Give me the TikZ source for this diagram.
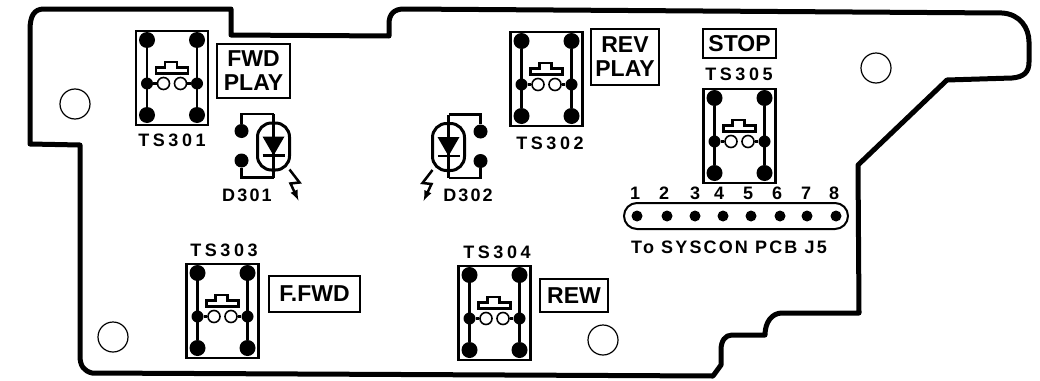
\documentclass[tikz,border=0pt]{standalone}
\usepackage{fontspec}
\usepackage{tikz}
\setmainfont{Liberation Sans}
\newfontfamily\tagfont[LetterSpace=12]{Liberation Sans}
\newfontfamily\widefont[LetterSpace=20]{Liberation Sans}
\tikzset{
	pad/.style={circle,fill=black,inner sep=0pt,minimum size=#1},
	pad/.default=16pt,
	hole/.style={circle,draw,line width=1.2pt,fill=white,inner sep=0pt,minimum size=#1},
	hole/.default=30pt,
	legend/.style={draw,line width=2.5pt,inner sep=0pt,align=center,font=\fontsize{23}{24}\selectfont\bfseries},
	tag/.style={inner sep=0pt,font=\fontsize{18}{20}\selectfont\tagfont\bfseries},
	swtag/.style={inner sep=0pt,font=\fontsize{18}{20}\selectfont\widefont\bfseries},
	wire/.style={line width=2.2pt},
	pics/tsswitch/.style={code={
		\draw[line width=2.5pt] (-36,-47) rectangle (36,47);
		\node[pad] (-ta) at (-25,-38) {};
		\node[pad] (-tb) at (25,-38) {};
		\node[pad] (-ba) at (-25,37) {};
		\node[pad] (-bb) at (25,37) {};
		\node[pad=12pt] (-ma) at (-25,5.5) {};
		\node[pad=12pt] (-mb) at (25,5.5) {};
		\node[hole=12pt,line width=1.6pt] (-ca) at (-8.5,5.5) {};
		\node[hole=12pt,line width=1.6pt] (-cb) at (8.5,5.5) {};
		\draw[wire] (-ta) -- (-ba);
		\draw[wire] (-tb) -- (-bb);
		\draw[wire] (-ma) -- (-ca);
		\draw[wire] (-mb) -- (-cb);
		\draw[wire] (-16,-10.5) -- (-7,-10.5) -- (-7,-16) -- (5,-16) -- (5,-10.5) -- (16,-10.5) -- (16,-4.5) -- (-16,-4.5) -- cycle;
	}},
	pics/ledmark/.style={code={
		\node[pad=14pt] (-a) at (-32,-15.5) {};
		\node[pad=14pt] (-b) at (-32,14) {};
		\coordinate (-t) at (0,-32.5);
		\coordinate (-e) at (0,31);
		\draw[line width=3pt,rounded corners=14pt] (-16,-23.5) rectangle (16,23.5);
		\fill (-11,-10) -- (11,-10) -- (0,9) -- cycle;
		\draw[wire] (-11,9) -- (11,9);
		\draw[wire] (-t) -- (-e);
		\draw[wire] (-a) |- (-t);
		\draw[wire] (-b) |- (-e);
		\draw[line width=2.5pt,-latex] (16,23) -- (26,36) -- (17,37) -- (25,54);
	}}
}
\begin{document}
\begin{tikzpicture}[x=1pt,y=-1pt]
	
	\useasboundingbox (0,0) rectangle (1040,380);
	
	% board outline
	\draw[line width=5pt,line join=round] (30,30) .. controls (30,16) and (34,9) .. (44,9) -- (231,9) -- (231,35)
		-- (389,36) -- (389,24) .. controls (389,14) and (394,9) .. (404,9) -- (1002,13)
		.. controls (1020,14) and (1029,28) .. (1029,42) -- (1029,62) .. controls (1029,72) and (1024,77) .. (1012,78)
		-- (947,80) -- (858,165) -- (859,313) -- (782,313) .. controls (772,313) and (765,322) .. (765,335)
		-- (732,335) .. controls (725,335) and (721,341) .. (721,350) -- (721,365) -- (713,376)
		-- (92,373) .. controls (84,371) and (80,366) .. (80,356) -- (80,145) -- (30,144) -- cycle;
	
	% mounting holes
	\node[hole] (h1) at (75,104) {};
	\node[hole] (h2) at (113,337) {};
	\node[hole] (h3) at (876,68) {};
	\node[hole] (h4) at (603,340) {};
	
	% switches
	\pic (ts301) at (172,78) {tsswitch};
	\pic (ts302) at (546.5,79) {tsswitch};
	\pic (ts303) at (222.5,311) {tsswitch};
	\pic (ts304) at (494.5,313) {tsswitch};
	\pic (ts305) at (739.5,136) {tsswitch};
	
	\node[swtag] (l301) at (172,140) {TS301};
	\node[swtag] (l302) at (550,143) {TS302};
	\node[swtag] (l303) at (224,250) {TS303};
	\node[swtag] (l304) at (497,252) {TS304};
	\node[swtag] (l305) at (739,74) {TS305};
	
	% legends
	\node[legend,minimum width=73pt,minimum height=54pt] (fwd) at (253.5,71) {FWD\\PLAY};
	\node[legend,minimum width=68pt,minimum height=56pt] (rev) at (625,57) {REV\\PLAY};
	\node[legend,minimum width=73pt,minimum height=29pt] (stop) at (739.5,43.5) {STOP};
	\node[legend,minimum width=91pt,minimum height=36pt] (ffwd) at (314.5,294) {F.FWD};
	\node[legend,minimum width=68pt,minimum height=33pt] (rew) at (574,295.5) {REW};
	
	% leds
	\pic (d301) at (273.5,146.5) {ledmark};
	\pic[xscale=-1] (d302) at (448.5,147) {ledmark};
	\node[tag] (l306) at (247,195) {D301};
	\node[tag] (l307) at (468,195) {D302};
	
	% connector
	\draw[line width=2pt,rounded corners=13pt] (624,203) rectangle (848,229);
	\foreach \pinx/\numx/\num in {637/635/1,667/664/2,695/695/3,723/719/4,751/748/5,780/777/6,807/806/7,836/834/8}{
		\node[pad=11pt] (j\num) at (\pinx,216) {};
		\node[tag] (n\num) at (\numx,193) {\num};
	}
	\node[tag] (j5) at (729,247) {To SYSCON PCB J5};
	
\end{tikzpicture}
\end{document}
